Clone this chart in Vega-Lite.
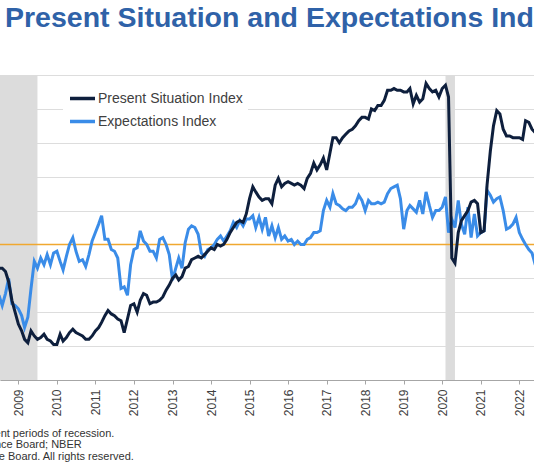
{
  "$schema": "https://vega.github.io/schema/vega-lite/v6.json",
  "width": 534,
  "height": 305,
  "autosize": {"type": "none"},
  "padding": {"left": 0, "top": 75, "right": 0, "bottom": 82},
  "background": "white",
  "config": {"view": {"stroke": null}, "font": "Liberation Sans"},
  "title": {
    "text": "Present Situation and Expectations Index",
    "anchor": "start",
    "frame": "group",
    "fontSize": 28.5,
    "fontWeight": "bold",
    "color": "#2F62A8",
    "font": "Liberation Sans",
    "offset": 43,
    "dx": 5
  },
  "datasets": {
    "recessions": [
      {"date": "2007-12-01", "end": "2009-07-01"},
      {"date": "2020-02-01", "end": "2020-05-01"}
    ],
    "threshold": [
      {"date": "2008-01-01", "end": "2023-01-01", "threshold": 80}
    ],
    "indices": [
      {"date": "2008-07-01", "Present Situation Index": 66, "Expectations Index": 50},
      {"date": "2008-08-01", "Present Situation Index": 66, "Expectations Index": 44},
      {"date": "2008-09-01", "Present Situation Index": 64, "Expectations Index": 51},
      {"date": "2008-10-01", "Present Situation Index": 58, "Expectations Index": 60},
      {"date": "2008-11-01", "Present Situation Index": 47, "Expectations Index": 45},
      {"date": "2008-12-01", "Present Situation Index": 40, "Expectations Index": 44},
      {"date": "2009-01-01", "Present Situation Index": 33, "Expectations Index": 42},
      {"date": "2009-02-01", "Present Situation Index": 29, "Expectations Index": 38},
      {"date": "2009-03-01", "Present Situation Index": 24, "Expectations Index": 31},
      {"date": "2009-04-01", "Present Situation Index": 22, "Expectations Index": 37},
      {"date": "2009-05-01", "Present Situation Index": 29, "Expectations Index": 54},
      {"date": "2009-06-01", "Present Situation Index": 26, "Expectations Index": 70},
      {"date": "2009-07-01", "Present Situation Index": 24, "Expectations Index": 66},
      {"date": "2009-08-01", "Present Situation Index": 25, "Expectations Index": 72},
      {"date": "2009-09-01", "Present Situation Index": 27, "Expectations Index": 68},
      {"date": "2009-10-01", "Present Situation Index": 24, "Expectations Index": 74},
      {"date": "2009-11-01", "Present Situation Index": 23, "Expectations Index": 68},
      {"date": "2009-12-01", "Present Situation Index": 21, "Expectations Index": 75},
      {"date": "2010-01-01", "Present Situation Index": 21, "Expectations Index": 76},
      {"date": "2010-02-01", "Present Situation Index": 27, "Expectations Index": 70},
      {"date": "2010-03-01", "Present Situation Index": 23, "Expectations Index": 65},
      {"date": "2010-04-01", "Present Situation Index": 25, "Expectations Index": 73},
      {"date": "2010-05-01", "Present Situation Index": 28, "Expectations Index": 80},
      {"date": "2010-06-01", "Present Situation Index": 30, "Expectations Index": 84},
      {"date": "2010-07-01", "Present Situation Index": 28, "Expectations Index": 76},
      {"date": "2010-08-01", "Present Situation Index": 27, "Expectations Index": 70},
      {"date": "2010-09-01", "Present Situation Index": 26, "Expectations Index": 71},
      {"date": "2010-10-01", "Present Situation Index": 24, "Expectations Index": 67},
      {"date": "2010-11-01", "Present Situation Index": 24, "Expectations Index": 74},
      {"date": "2010-12-01", "Present Situation Index": 26, "Expectations Index": 82},
      {"date": "2011-01-01", "Present Situation Index": 29, "Expectations Index": 87},
      {"date": "2011-02-01", "Present Situation Index": 31, "Expectations Index": 92},
      {"date": "2011-03-01", "Present Situation Index": 34, "Expectations Index": 97},
      {"date": "2011-04-01", "Present Situation Index": 38, "Expectations Index": 83},
      {"date": "2011-05-01", "Present Situation Index": 41, "Expectations Index": 83},
      {"date": "2011-06-01", "Present Situation Index": 39, "Expectations Index": 77},
      {"date": "2011-07-01", "Present Situation Index": 38, "Expectations Index": 76},
      {"date": "2011-08-01", "Present Situation Index": 36, "Expectations Index": 72},
      {"date": "2011-09-01", "Present Situation Index": 35, "Expectations Index": 54},
      {"date": "2011-10-01", "Present Situation Index": 28, "Expectations Index": 55},
      {"date": "2011-11-01", "Present Situation Index": 36, "Expectations Index": 50},
      {"date": "2011-12-01", "Present Situation Index": 44, "Expectations Index": 68},
      {"date": "2012-01-01", "Present Situation Index": 45, "Expectations Index": 77},
      {"date": "2012-02-01", "Present Situation Index": 40, "Expectations Index": 78},
      {"date": "2012-03-01", "Present Situation Index": 47, "Expectations Index": 88},
      {"date": "2012-04-01", "Present Situation Index": 51, "Expectations Index": 82},
      {"date": "2012-05-01", "Present Situation Index": 50, "Expectations Index": 80},
      {"date": "2012-06-01", "Present Situation Index": 45, "Expectations Index": 76},
      {"date": "2012-07-01", "Present Situation Index": 46, "Expectations Index": 76},
      {"date": "2012-08-01", "Present Situation Index": 46, "Expectations Index": 72},
      {"date": "2012-09-01", "Present Situation Index": 47, "Expectations Index": 83},
      {"date": "2012-10-01", "Present Situation Index": 49, "Expectations Index": 84},
      {"date": "2012-11-01", "Present Situation Index": 53, "Expectations Index": 80},
      {"date": "2012-12-01", "Present Situation Index": 56, "Expectations Index": 74},
      {"date": "2013-01-01", "Present Situation Index": 60, "Expectations Index": 59},
      {"date": "2013-02-01", "Present Situation Index": 62, "Expectations Index": 66},
      {"date": "2013-03-01", "Present Situation Index": 59, "Expectations Index": 72},
      {"date": "2013-04-01", "Present Situation Index": 61, "Expectations Index": 66},
      {"date": "2013-05-01", "Present Situation Index": 66, "Expectations Index": 81},
      {"date": "2013-06-01", "Present Situation Index": 67, "Expectations Index": 89},
      {"date": "2013-07-01", "Present Situation Index": 71, "Expectations Index": 91},
      {"date": "2013-08-01", "Present Situation Index": 72, "Expectations Index": 90},
      {"date": "2013-09-01", "Present Situation Index": 73, "Expectations Index": 86},
      {"date": "2013-10-01", "Present Situation Index": 72, "Expectations Index": 75},
      {"date": "2013-11-01", "Present Situation Index": 74, "Expectations Index": 73},
      {"date": "2013-12-01", "Present Situation Index": 76, "Expectations Index": 77},
      {"date": "2014-01-01", "Present Situation Index": 78, "Expectations Index": 78},
      {"date": "2014-02-01", "Present Situation Index": 77, "Expectations Index": 80},
      {"date": "2014-03-01", "Present Situation Index": 80, "Expectations Index": 83},
      {"date": "2014-04-01", "Present Situation Index": 79, "Expectations Index": 85},
      {"date": "2014-05-01", "Present Situation Index": 80, "Expectations Index": 82},
      {"date": "2014-06-01", "Present Situation Index": 83, "Expectations Index": 85},
      {"date": "2014-07-01", "Present Situation Index": 87, "Expectations Index": 88},
      {"date": "2014-08-01", "Present Situation Index": 90, "Expectations Index": 93},
      {"date": "2014-09-01", "Present Situation Index": 93, "Expectations Index": 90},
      {"date": "2014-10-01", "Present Situation Index": 94, "Expectations Index": 94},
      {"date": "2014-11-01", "Present Situation Index": 93, "Expectations Index": 91},
      {"date": "2014-12-01", "Present Situation Index": 98, "Expectations Index": 95},
      {"date": "2015-01-01", "Present Situation Index": 107, "Expectations Index": 95},
      {"date": "2015-02-01", "Present Situation Index": 114, "Expectations Index": 97},
      {"date": "2015-03-01", "Present Situation Index": 111, "Expectations Index": 90},
      {"date": "2015-04-01", "Present Situation Index": 108, "Expectations Index": 96},
      {"date": "2015-05-01", "Present Situation Index": 106, "Expectations Index": 89},
      {"date": "2015-06-01", "Present Situation Index": 107, "Expectations Index": 96},
      {"date": "2015-07-01", "Present Situation Index": 107, "Expectations Index": 85},
      {"date": "2015-08-01", "Present Situation Index": 104, "Expectations Index": 91},
      {"date": "2015-09-01", "Present Situation Index": 115, "Expectations Index": 84},
      {"date": "2015-10-01", "Present Situation Index": 119, "Expectations Index": 90},
      {"date": "2015-11-01", "Present Situation Index": 114, "Expectations Index": 83},
      {"date": "2015-12-01", "Present Situation Index": 116, "Expectations Index": 85},
      {"date": "2016-01-01", "Present Situation Index": 117, "Expectations Index": 82},
      {"date": "2016-02-01", "Present Situation Index": 116, "Expectations Index": 83},
      {"date": "2016-03-01", "Present Situation Index": 115, "Expectations Index": 80},
      {"date": "2016-04-01", "Present Situation Index": 116, "Expectations Index": 82},
      {"date": "2016-05-01", "Present Situation Index": 115, "Expectations Index": 80},
      {"date": "2016-06-01", "Present Situation Index": 113, "Expectations Index": 80},
      {"date": "2016-07-01", "Present Situation Index": 119, "Expectations Index": 83},
      {"date": "2016-08-01", "Present Situation Index": 122, "Expectations Index": 84},
      {"date": "2016-09-01", "Present Situation Index": 128, "Expectations Index": 87},
      {"date": "2016-10-01", "Present Situation Index": 124, "Expectations Index": 87},
      {"date": "2016-11-01", "Present Situation Index": 127, "Expectations Index": 88},
      {"date": "2016-12-01", "Present Situation Index": 131, "Expectations Index": 100},
      {"date": "2017-01-01", "Present Situation Index": 124, "Expectations Index": 106},
      {"date": "2017-02-01", "Present Situation Index": 134, "Expectations Index": 102},
      {"date": "2017-03-01", "Present Situation Index": 143, "Expectations Index": 110},
      {"date": "2017-04-01", "Present Situation Index": 143, "Expectations Index": 104},
      {"date": "2017-05-01", "Present Situation Index": 140, "Expectations Index": 103},
      {"date": "2017-06-01", "Present Situation Index": 143, "Expectations Index": 101},
      {"date": "2017-07-01", "Present Situation Index": 145, "Expectations Index": 100},
      {"date": "2017-08-01", "Present Situation Index": 147, "Expectations Index": 102},
      {"date": "2017-09-01", "Present Situation Index": 148, "Expectations Index": 102},
      {"date": "2017-10-01", "Present Situation Index": 150, "Expectations Index": 104},
      {"date": "2017-11-01", "Present Situation Index": 153, "Expectations Index": 109},
      {"date": "2017-12-01", "Present Situation Index": 155, "Expectations Index": 106},
      {"date": "2018-01-01", "Present Situation Index": 155, "Expectations Index": 100},
      {"date": "2018-02-01", "Present Situation Index": 154, "Expectations Index": 106},
      {"date": "2018-03-01", "Present Situation Index": 160, "Expectations Index": 104},
      {"date": "2018-04-01", "Present Situation Index": 159, "Expectations Index": 104},
      {"date": "2018-05-01", "Present Situation Index": 162, "Expectations Index": 105},
      {"date": "2018-06-01", "Present Situation Index": 162, "Expectations Index": 104},
      {"date": "2018-07-01", "Present Situation Index": 165, "Expectations Index": 105},
      {"date": "2018-08-01", "Present Situation Index": 171, "Expectations Index": 110},
      {"date": "2018-09-01", "Present Situation Index": 171, "Expectations Index": 113},
      {"date": "2018-10-01", "Present Situation Index": 172, "Expectations Index": 114},
      {"date": "2018-11-01", "Present Situation Index": 171, "Expectations Index": 115},
      {"date": "2018-12-01", "Present Situation Index": 171, "Expectations Index": 107},
      {"date": "2019-01-01", "Present Situation Index": 170, "Expectations Index": 89},
      {"date": "2019-02-01", "Present Situation Index": 170, "Expectations Index": 100},
      {"date": "2019-03-01", "Present Situation Index": 172, "Expectations Index": 103},
      {"date": "2019-04-01", "Present Situation Index": 163, "Expectations Index": 101},
      {"date": "2019-05-01", "Present Situation Index": 168, "Expectations Index": 99},
      {"date": "2019-06-01", "Present Situation Index": 164, "Expectations Index": 106},
      {"date": "2019-07-01", "Present Situation Index": 166, "Expectations Index": 98},
      {"date": "2019-08-01", "Present Situation Index": 175, "Expectations Index": 111},
      {"date": "2019-09-01", "Present Situation Index": 172, "Expectations Index": 103},
      {"date": "2019-10-01", "Present Situation Index": 170, "Expectations Index": 96},
      {"date": "2019-11-01", "Present Situation Index": 171, "Expectations Index": 100},
      {"date": "2019-12-01", "Present Situation Index": 167, "Expectations Index": 100},
      {"date": "2020-01-01", "Present Situation Index": 172, "Expectations Index": 102},
      {"date": "2020-02-01", "Present Situation Index": 174, "Expectations Index": 108},
      {"date": "2020-03-01", "Present Situation Index": 167, "Expectations Index": 87},
      {"date": "2020-04-01", "Present Situation Index": 72, "Expectations Index": 95},
      {"date": "2020-05-01", "Present Situation Index": 69, "Expectations Index": 90},
      {"date": "2020-06-01", "Present Situation Index": 87, "Expectations Index": 106},
      {"date": "2020-07-01", "Present Situation Index": 94, "Expectations Index": 92},
      {"date": "2020-08-01", "Present Situation Index": 97, "Expectations Index": 86},
      {"date": "2020-09-01", "Present Situation Index": 100, "Expectations Index": 102},
      {"date": "2020-10-01", "Present Situation Index": 105, "Expectations Index": 84},
      {"date": "2020-11-01", "Present Situation Index": 106, "Expectations Index": 98},
      {"date": "2020-12-01", "Present Situation Index": 104, "Expectations Index": 85},
      {"date": "2021-01-01", "Present Situation Index": 87, "Expectations Index": 87},
      {"date": "2021-02-01", "Present Situation Index": 88, "Expectations Index": 88},
      {"date": "2021-03-01", "Present Situation Index": 115, "Expectations Index": 112},
      {"date": "2021-04-01", "Present Situation Index": 135, "Expectations Index": 109},
      {"date": "2021-05-01", "Present Situation Index": 150, "Expectations Index": 105},
      {"date": "2021-06-01", "Present Situation Index": 159, "Expectations Index": 107},
      {"date": "2021-07-01", "Present Situation Index": 157, "Expectations Index": 108},
      {"date": "2021-08-01", "Present Situation Index": 148, "Expectations Index": 100},
      {"date": "2021-09-01", "Present Situation Index": 144, "Expectations Index": 89},
      {"date": "2021-10-01", "Present Situation Index": 144, "Expectations Index": 90},
      {"date": "2021-11-01", "Present Situation Index": 143, "Expectations Index": 92},
      {"date": "2021-12-01", "Present Situation Index": 143, "Expectations Index": 96},
      {"date": "2022-01-01", "Present Situation Index": 143, "Expectations Index": 87},
      {"date": "2022-02-01", "Present Situation Index": 142, "Expectations Index": 83},
      {"date": "2022-03-01", "Present Situation Index": 153, "Expectations Index": 80},
      {"date": "2022-04-01", "Present Situation Index": 152, "Expectations Index": 77},
      {"date": "2022-05-01", "Present Situation Index": 148, "Expectations Index": 75},
      {"date": "2022-06-01", "Present Situation Index": 146, "Expectations Index": 68}
    ]
  },
  "encoding": {
    "x": {
      "field": "date",
      "type": "temporal",
      "scale": {
        "type": "utc",
        "domain": [
          {"year": 2008, "month": 7, "date": 11, "utc": true},
          {"year": 2022, "month": 5, "date": 20, "utc": true}
        ]
      },
      "title": [
        "*Shaded areas represent periods of recession.",
        "Sources: The Conference Board;  NBER",
        "© 2022 The Conference Board. All rights reserved."
      ],
      "axis": {
        "values": [
          {"year": 2009, "utc": true}, {"year": 2010, "utc": true},
          {"year": 2011, "utc": true}, {"year": 2012, "utc": true},
          {"year": 2013, "utc": true}, {"year": 2014, "utc": true},
          {"year": 2015, "utc": true}, {"year": 2016, "utc": true},
          {"year": 2017, "utc": true}, {"year": 2018, "utc": true},
          {"year": 2019, "utc": true}, {"year": 2020, "utc": true},
          {"year": 2021, "utc": true}, {"year": 2022, "utc": true}
        ],
        "format": "%Y",
        "grid": false,
        "labelAngle": 270,
        "labelAlign": "right",
        "labelBaseline": "middle",
        "labelFontSize": 12,
        "labelColor": "#404040",
        "labelPadding": 5,
        "labelOverlap": false,
        "labelFlush": false,
        "tickSize": 4,
        "tickColor": "#A6A6A6",
        "domainColor": "#A6A6A6",
        "titleFontSize": 11,
        "titleFontWeight": "normal",
        "titleColor": "#333333",
        "titleAngle": 0,
        "titleAlign": "left",
        "titleAnchor": "start",
        "titleBaseline": "top",
        "titleLineHeight": 11.8,
        "titleX": -113,
        "titleY": 47
      }
    }
  },
  "layer": [
    {
      "data": {"name": "recessions"},
      "mark": {"type": "rect", "color": "#DCDCDC", "clip": true},
      "encoding": {"x2": {"field": "end"}}
    },
    {
      "data": {"name": "threshold"},
      "mark": {"type": "rule", "color": "#F0A830", "strokeWidth": 1.6, "clip": true},
      "encoding": {
        "x2": {"field": "end"},
        "y": {
          "field": "threshold",
          "type": "quantitative",
          "title": null,
          "scale": {"domain": [0, 180], "nice": false},
          "axis": {
            "values": [0, 20, 40, 60, 80, 100, 120, 140, 160, 180],
            "labels": false,
            "ticks": false,
            "domain": false,
            "grid": true,
            "gridColor": "#DDDDDD",
            "gridWidth": 1
          }
        }
      }
    },
    {
      "data": {"name": "indices"},
      "transform": [
        {"fold": ["Expectations Index", "Present Situation Index"], "as": ["series", "value"]}
      ],
      "mark": {"type": "line", "strokeWidth": 3, "clip": true},
      "encoding": {
        "y": {
          "field": "value",
          "type": "quantitative",
          "title": null,
          "scale": {"domain": [0, 180], "nice": false},
          "axis": {
            "values": [0, 20, 40, 60, 80, 100, 120, 140, 160, 180],
            "labels": false,
            "ticks": false,
            "domain": false,
            "grid": true,
            "gridColor": "#DDDDDD",
            "gridWidth": 1
          }
        },
        "color": {
          "field": "series",
          "type": "nominal",
          "scale": {
            "domain": ["Present Situation Index", "Expectations Index"],
            "range": ["#0E1F3D", "#3A8CE8"]
          },
          "legend": {
            "orient": "none",
            "legendX": 63,
            "legendY": 7,
            "title": null,
            "symbolType": "stroke",
            "symbolSize": 625,
            "symbolStrokeWidth": 3.5,
            "labelFontSize": 14,
            "labelColor": "#404040",
            "labelFont": "Liberation Sans",
            "labelOffset": 1,
            "fillColor": "white",
            "padding": 5,
            "rowPadding": 0,
            "clipHeight": 23
          }
        }
      }
    }
  ]
}
